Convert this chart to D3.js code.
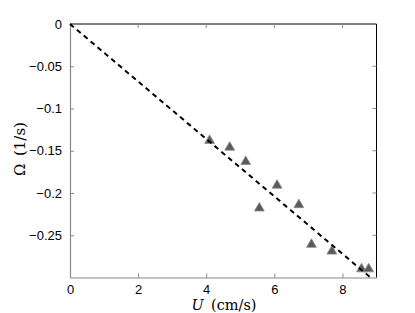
<!DOCTYPE html>
<html>
<head>
<meta charset="utf-8">
<script src="https://cdn.jsdelivr.net/npm/d3@7"></script>
<style>
  body { margin: 0; background: #fff; }
  svg { display: block; }
</style>
</head>
<body>
<svg id="chart"></svg>
<script>
// measured points (U in cm/s, Omega in 1/s)
const uValues = [4.10, 4.69, 5.16, 5.56, 6.08, 6.72, 7.09, 7.69, 8.56, 8.77];
const omegaValues = [-0.137, -0.145, -0.162, -0.217, -0.190, -0.213, -0.260, -0.268, -0.289, -0.289];

// dashed fit line
const fitU = [0, 8.8];
const fitOmega = [0, -0.2992];

const xTicks = [0, 2, 4, 6, 8];
const yTicks = [0, -0.05, -0.1, -0.15, -0.2, -0.25];

const width = 415, height = 313;
const margin = {top: 24, right: 38.5, bottom: 35.5, left: 70};
const innerW = width - margin.left - margin.right;
const innerH = height - margin.top - margin.bottom;

const svg = d3.select('#chart')
    .attr('width', width)
    .attr('height', height);

const chart = svg.append('g')
    .attr('transform', `translate(${margin.left}, ${margin.top})`);

const xscale = d3.scaleLinear().domain([0, 9]).range([0, innerW]);
const yscale = d3.scaleLinear().domain([-0.3, 0]).range([innerH, 0]);

const fmtY = d => d === 0 ? '0' : ('\u2212' + String(Math.abs(d)));

// box: top and right are black, left and bottom gray (as in the figure)
chart.append('line')
    .attr('x1', 0).attr('x2', innerW).attr('y1', 0).attr('y2', 0)
    .attr('stroke', '#000').attr('stroke-width', 1);
chart.append('line')
    .attr('x1', innerW).attr('x2', innerW).attr('y1', 0).attr('y2', innerH)
    .attr('stroke', '#000').attr('stroke-width', 1);

const xaxis = d3.axisBottom(xscale)
    .tickValues(xTicks)
    .tickSizeInner(-4)
    .tickSizeOuter(0)
    .tickPadding(7)
    .tickFormat(d3.format('d'));

const yaxis = d3.axisLeft(yscale)
    .tickValues(yTicks)
    .tickSizeInner(-4)
    .tickSizeOuter(0)
    .tickPadding(8)
    .tickFormat(fmtY);

const xaxis_group = chart.append('g')
    .attr('transform', `translate(0, ${innerH})`)
    .call(xaxis);
const yaxis_group = chart.append('g')
    .call(yaxis);

[xaxis_group, yaxis_group].forEach(g => {
    g.select('.domain').attr('stroke', '#888').attr('stroke-width', 1.2);
    g.selectAll('.tick line').attr('stroke', '#888');
    g.selectAll('.tick text')
        .attr('fill', '#000')
        .attr('font-family', 'Liberation Sans, Arial, sans-serif')
        .attr('font-size', 13);
});

// mirrored ticks on top and right
chart.append('g').selectAll('line')
    .data(xTicks.filter(d => d > 0))
    .join('line')
    .attr('x1', d => xscale(d)).attr('x2', d => xscale(d))
    .attr('y1', 0).attr('y2', 4)
    .attr('stroke', '#888');
chart.append('g').selectAll('line')
    .data(yTicks.filter(d => d < 0))
    .join('line')
    .attr('x1', innerW).attr('x2', innerW - 4)
    .attr('y1', d => yscale(d)).attr('y2', d => yscale(d))
    .attr('stroke', '#888');

// triangles
const points = uValues.map((u, i) => ({u: u, w: omegaValues[i]}));
const tri = d3.symbol().type(d3.symbolTriangle).size(42);
chart.selectAll('.pt')
    .data(points)
    .join('path')
    .attr('class', 'pt')
    .attr('d', tri)
    .attr('transform', d => `translate(${xscale(d.u)}, ${yscale(d.w) + 0.8})`)
    .attr('fill', '#5a5a5a')
    .attr('stroke', '#8a8a8a')
    .attr('stroke-width', 0.8);

// fit line
const fit = fitU.map((u, i) => [u, fitOmega[i]]);
chart.append('path')
    .datum(fit)
    .attr('d', d3.line().x(d => xscale(d[0])).y(d => yscale(d[1])))
    .attr('fill', 'none')
    .attr('stroke', '#000')
    .attr('stroke-width', 2)
    .attr('stroke-dasharray', '5,4');

// axis labels
const xl = svg.append('text')
    .attr('x', 224)
    .attr('y', 310)
    .attr('text-anchor', 'middle')
    .attr('font-family', 'DejaVu Serif, Liberation Serif, serif')
    .attr('font-size', 14.5);
xl.append('tspan').attr('font-style', 'italic').text('U');
xl.append('tspan').text('\u2002(cm/s)');

svg.append('text')
    .attr('transform', 'translate(25, 149) rotate(-90)')
    .attr('text-anchor', 'middle')
    .attr('font-family', 'DejaVu Serif, Liberation Serif, serif')
    .attr('font-size', 15)
    .text('\u03A9\u2002(1/s)');
</script>
</body>
</html>
